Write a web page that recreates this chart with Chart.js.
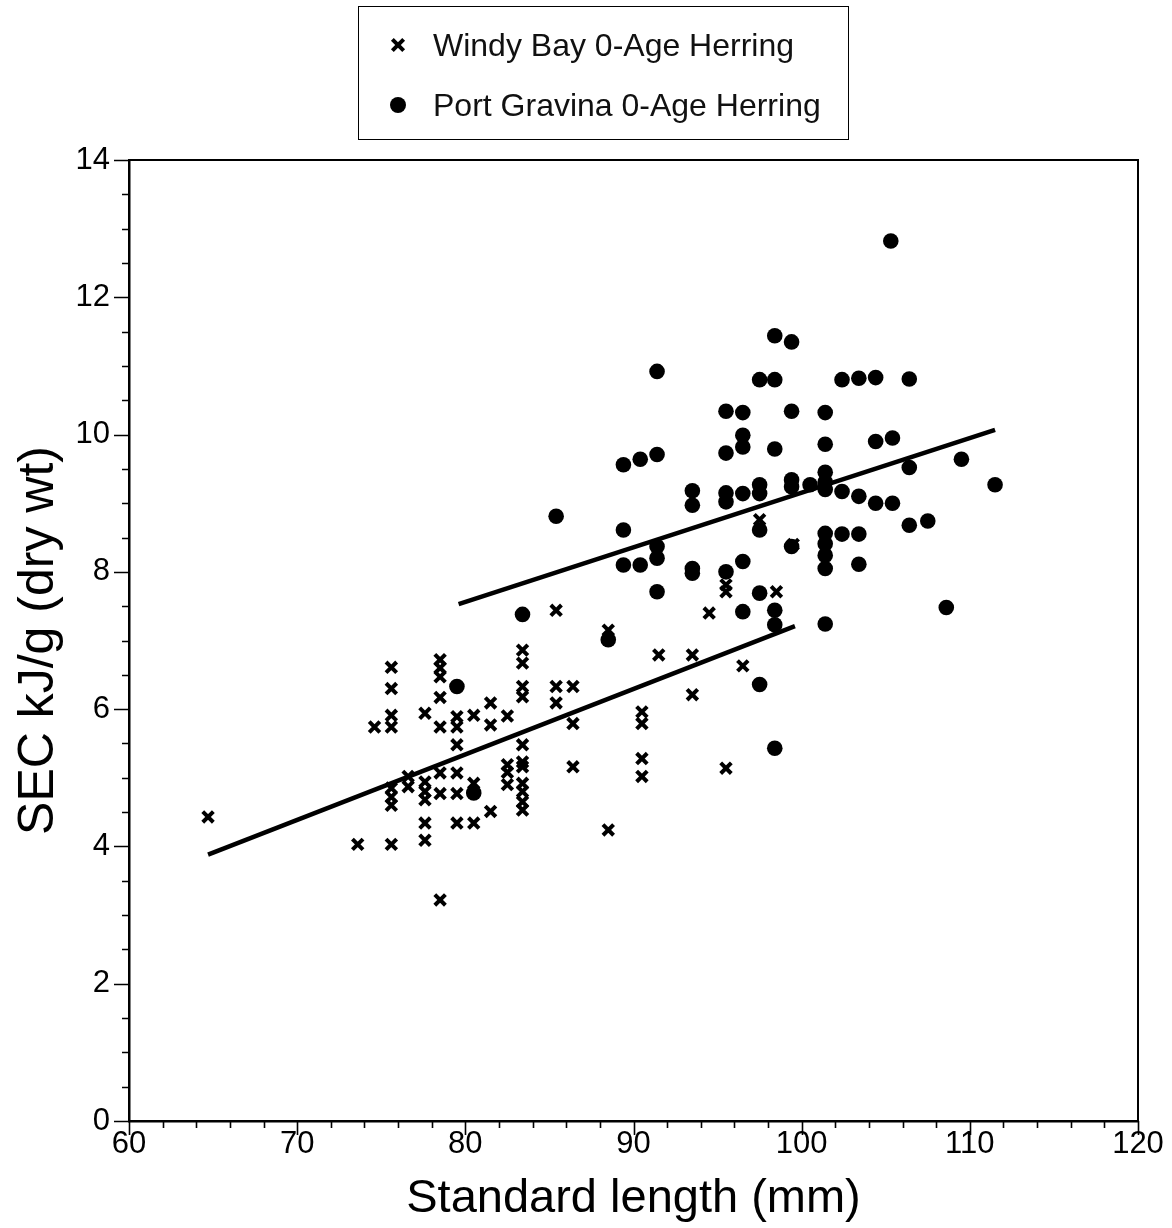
<!DOCTYPE html>
<html><head><meta charset="utf-8">
<script src="https://cdn.jsdelivr.net/npm/chart.js@4.4.1/dist/chart.umd.min.js"></script>
<style>
html,body{margin:0;padding:0;background:#fff;}
#wrap{position:relative;width:1172px;height:1228px;background:#fff;}
#c{position:absolute;left:0;top:0;}
#legend{position:absolute;left:358px;top:6px;width:491px;height:134px;border:1.5px solid #000;box-sizing:border-box;font-family:"Liberation Sans",Arial,sans-serif;font-size:32px;color:#111;}
.row{position:absolute;left:74px;height:40px;line-height:40px;white-space:nowrap;}
.cross{position:absolute;left:32px;width:14px;height:14px;}
.cross:before,.cross:after{content:"";position:absolute;left:-1px;top:5px;width:16px;height:4px;background:#000;}
.cross:before{transform:rotate(45deg);} .cross:after{transform:rotate(-45deg);}
.dot{position:absolute;left:31px;width:16px;height:16px;border-radius:50%;background:#000;}
</style></head>
<body>
<div id="wrap">
<canvas id="c" width="1172" height="1228"></canvas>
<div id="legend">
  <div class="cross" style="top:31px"></div><div class="row" style="top:18px">Windy Bay 0-Age Herring</div>
  <div class="dot" style="top:90px"></div><div class="row" style="top:78px">Port Gravina 0-Age Herring</div>
</div>
</div>
<script>
// Windy Bay 0-Age Herring (crosses)
const wbX = [64.7, 73.6, 74.6,
  75.6,75.6,75.6,75.6,75.6,75.6,75.6,75.6,
  76.6,76.6,
  77.6,77.6,77.6,77.6,77.6,77.6,
  78.5,78.5,78.5,78.5,78.5,78.5,78.5,78.5,
  79.5,79.5,79.5,79.5,79.5,79.5,
  80.5,80.5,80.5,
  81.5,81.5,81.5,
  82.5,82.5,82.5,82.5,
  83.4,83.4,83.4,83.4,83.4,83.4,83.4,83.4,83.4,83.4,83.4,
  85.4,85.4,85.4,
  86.4,86.4,86.4,
  88.5,88.5,
  90.5,90.5,90.5,90.5,
  91.5, 93.5,93.5, 94.5,
  95.5,95.5,95.5, 96.5, 97.5, 98.5, 99.5];
const wbY = [4.43, 4.03, 5.74,
  6.61,6.30,5.91,5.74,4.85,4.72,4.60,4.03,
  5.02,4.87,
  5.94,4.94,4.80,4.68,4.34,4.09,
  6.72,6.60,6.47,6.17,5.74,5.07,4.77,3.22,
  5.89,5.74,5.48,5.07,4.77,4.34,
  5.91,4.92,4.34,
  6.09,5.77,4.51,
  5.90,5.19,5.08,4.90,
  6.86,6.67,6.33,6.18,5.48,5.23,5.16,4.92,4.80,4.65,4.53,
  7.44,6.33,6.09,
  6.33,5.79,5.16,
  7.15,4.24,
  5.96,5.79,5.28,5.02,
  6.79, 6.79,6.21, 7.40,
  7.81,7.71,5.14, 6.63, 8.76, 7.71, 8.40];

// Port Gravina 0-Age Herring (dots)
const pgX = [79.5, 80.5, 83.4, 85.4, 88.5,
  89.4,89.4,89.4,
  90.4,90.4,
  91.4,91.4,91.4,91.4,91.4,
  93.5,93.5,93.5,93.5,
  95.5,95.5,95.5,95.5,95.5,
  96.5,96.5,96.5,96.5,96.5,96.5,
  97.5,97.5,97.5,97.5,97.5,97.5,
  98.4,98.4,98.4,98.4,98.4,98.4,
  99.4,99.4,99.4,99.4,99.4,
  100.5,
  101.4,101.4,101.4,101.4,101.4,101.4,101.4,101.4,101.4,101.4,
  102.4,102.4,102.4,
  103.4,103.4,103.4,103.4,
  104.4,104.4,104.4,
  105.3,105.4,105.4,
  106.4,106.4,106.4,
  107.5, 108.6, 109.5, 111.5];
const pgY = [6.33, 4.78, 7.38, 8.81, 7.01,
  9.56,8.61,8.10,
  9.64,8.10,
  10.92,9.71,8.37,8.20,7.71,
  9.18,8.97,8.05,7.98,
  10.34,9.73,9.15,9.02,8.00,
  10.32,9.99,9.82,9.14,8.15,7.42,
  10.80,9.27,9.14,8.61,7.69,6.36,
  11.44,10.80,9.79,7.44,7.23,5.43,
  11.35,10.34,9.34,9.24,8.37,
  9.27,
  10.32,9.86,9.45,9.31,9.20,8.56,8.41,8.24,8.05,7.24,
  10.80,9.17,8.55,
  10.82,9.10,8.55,8.11,
  10.83,9.90,9.00,
  12.82,9.95,9.00,
  10.81,9.52,8.68,
  8.74, 7.48, 9.64, 9.27];

// Regression lines (end points)
const wbFitX = [64.7, 99.6];
const wbFitY = [3.88, 7.21];
const pgFitX = [79.6, 111.5];
const pgFitY = [7.53, 10.07];

// Axis ticks
const xTicks = [60, 70, 80, 90, 100, 110, 120];
const yTicks = [0, 2, 4, 6, 8, 10, 12, 14];

const pts = (xs, ys) => xs.map((x, i) => ({x: x, y: ys[i]}));

const REG = "'Liberation Sans',Arial,sans-serif";

const framePlugin = {
  id: 'frame',
  afterDraw(chart) {
    const {ctx, chartArea: a, scales: {x, y}} = chart;
    ctx.save();
    ctx.strokeStyle = '#000';
    ctx.lineWidth = 2;
    ctx.beginPath();
    ctx.moveTo(a.left, a.top); ctx.lineTo(a.right, a.top); ctx.lineTo(a.right, a.bottom);
    ctx.stroke();
    ctx.lineWidth = 1.6;
    ctx.beginPath();
    for (let v = x.min; v <= x.max + 1e-9; v += 2) {
      const px = Math.round(x.getPixelForValue(v)) + 0.5;
      const major = Math.abs(v % 10) < 1e-9;
      ctx.moveTo(px, a.bottom); ctx.lineTo(px, a.bottom + (major ? 14 : 7));
    }
    for (let v = y.min; v <= y.max + 1e-9; v += 0.5) {
      const py = Math.round(y.getPixelForValue(v)) + 0.5;
      const major = Math.abs(v % 2) < 1e-9;
      ctx.moveTo(a.left, py); ctx.lineTo(a.left - (major ? 15 : 7), py);
    }
    ctx.stroke();
    ctx.restore();
  }
};

new Chart(document.getElementById('c'), {
  type: 'scatter',
  data: {
    datasets: [
      {label: 'Windy Bay 0-Age Herring', data: pts(wbX, wbY), pointStyle: 'crossRot', pointRadius: 7.5,
       borderColor: '#000', backgroundColor: '#000', borderWidth: 4},
      {label: 'Port Gravina 0-Age Herring', data: pts(pgX, pgY), pointStyle: 'circle', pointRadius: 7.8,
       borderColor: '#000', backgroundColor: '#000', borderWidth: 0},
      {type: 'line', label: 'Windy Bay fit', data: pts(wbFitX, wbFitY), borderColor: '#000',
       borderWidth: 4.5, pointRadius: 0, fill: false},
      {type: 'line', label: 'Port Gravina fit', data: pts(pgFitX, pgFitY), borderColor: '#000',
       borderWidth: 4.5, pointRadius: 0, fill: false}
    ]
  },
  options: {
    responsive: false, animation: false, devicePixelRatio: 1,
    layout: {padding: {top: 160, right: 34, left: 0, bottom: 0}},
    plugins: {legend: {display: false}, tooltip: {enabled: false}},
    scales: {
      x: {
        type: 'linear', min: 60, max: 120,
        afterBuildTicks(s) { s.ticks = xTicks.map(v => ({value: v})); },
        afterFit(s) { s.height = 107; },
        ticks: {font: {family: REG, size: 31}, color: '#000', padding: 5},
        grid: {display: false, drawTicks: false},
        border: {display: true, color: '#000', width: 2.5},
        title: {display: true, text: 'Standard length (mm)', color: '#000',
                font: {family: REG, size: 47}, padding: {top: 0, bottom: 1}}
      },
      y: {
        type: 'linear', min: 0, max: 14,
        afterBuildTicks(s) { s.ticks = yTicks.map(v => ({value: v})); },
        afterFit(s) { s.width = 129; },
        ticks: {font: {family: REG, size: 31}, color: '#000', padding: 19},
        grid: {display: false, drawTicks: false},
        border: {display: true, color: '#000', width: 2.5},
        title: {display: true, text: 'SEC kJ/g (dry wt)', color: '#000',
                font: {family: REG, size: 50}, padding: {top: 9, bottom: 0}}
      }
    }
  },
  plugins: [framePlugin]
});
</script>
</body></html>
